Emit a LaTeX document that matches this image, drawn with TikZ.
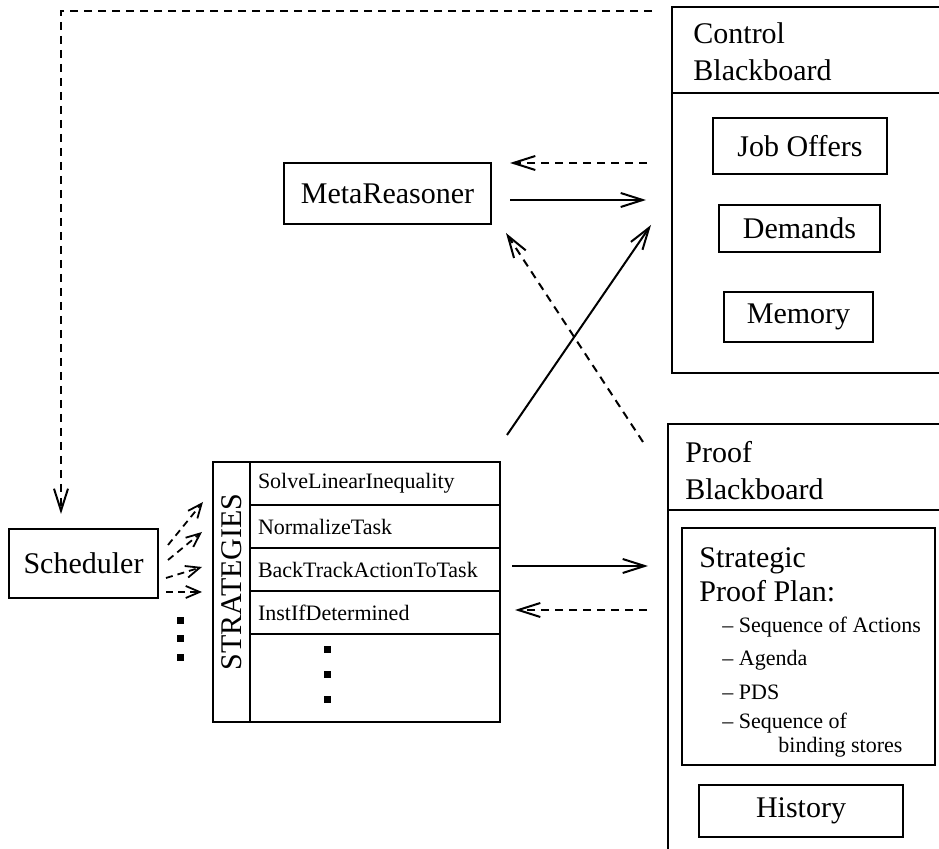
\documentclass[tikz,border=0pt]{standalone}
\usepackage{fontspec}
\setmainfont{Liberation Serif}
\usetikzlibrary{arrows.meta,positioning}

\newcommand{\bigtxt}{\fontsize{15}{18.5}\selectfont}
\newcommand{\smalltxt}{\fontsize{11}{16}\selectfont}

\tikzset{
  box/.style={draw, line width=1pt, font=\bigtxt, inner sep=0pt},
  row/.style={draw, line width=1pt, outer sep=0pt, font=\smalltxt, text width=117pt,
    align=left, inner xsep=4pt, inner ysep=0pt, minimum height=21.5pt, anchor=north west},
  item/.style={font=\smalltxt, anchor=west, inner sep=0pt},
  bbtitle/.style={font=\bigtxt, align=left, anchor=west, inner sep=0pt},
  bb/.style={line width=1pt},
  solidarr/.style={line width=1pt, -{Straight Barb[length=11pt,width=7pt]}},
  dasharr/.style={solidarr, dash pattern=on 4pt off 3pt},
  smallarr/.style={line width=0.9pt, dash pattern=on 3.5pt off 2.5pt,
    -{Straight Barb[length=7pt,width=6pt]}},
  sqdot/.style={fill, minimum size=3.5pt, inner sep=0pt}
}

\begin{document}
\begin{tikzpicture}[x=0.5pt,y=-0.5pt]
        \useasboundingbox (0,0) rectangle (939,849);

        % blackboards
        \coordinate (cbbnw) at (672,7);
        \coordinate (cbbsw) at (672,373);
        \coordinate (pbbnw) at (668,424);
        \coordinate (pbbsw) at (668,849);

        \draw[bb] (939,7) -- (cbbnw) -- (cbbsw) -- (939,373);
        \draw[bb] (cbbnw |- 0,93) -- (939,93);
        \draw[bb] (939,424) -- (pbbnw) -- (pbbsw);
        \draw[bb] (pbbnw |- 0,510) -- (939,510);

        \node[bbtitle] (cbbtitle) at (693,52)  {Control\\Blackboard};
        \node[bbtitle] (pbbtitle) at (685,471) {Proof\\Blackboard};

        \node[box, minimum width=87pt,   minimum height=28pt]   (offers)  at (800,146)   {Job Offers};
        \node[box, minimum width=80.5pt, minimum height=23.5pt] (demands) at (799.5,228.5) {Demands};
        \node[box, minimum width=74.5pt, minimum height=25pt]   (memory)  at (798.5,317) {Memory};

        \node[box, minimum width=126.5pt, minimum height=118.5pt] (plan) at (808.5,646.5) {};
        \node[bbtitle, font=\fontsize{15}{17}\selectfont] (plantitle) at (699,575) {Strategic\\Proof Plan:};
        \node[item] (acts)   at (722,627) {-- Sequence of Actions};
        \node[item] (agenda) at (722,660) {-- Agenda};
        \node[item] (pds)    at (722,692) {-- PDS};
        \node[item] (binds)  at (722,723) {-- Sequence of};
        \node[item] (binds2) at (778,747) {binding stores};

        \node[box, minimum width=102pt, minimum height=26pt] (history) at (801,811) {History};

        % agents
        \node[box, minimum width=103.5pt, minimum height=30.5pt] (meta)  at (387.5,193.5) {MetaReasoner};
        \node[box, minimum width=74.5pt,  minimum height=34.5pt] (sched) at (83.5,563.5)  {Scheduler};

        % strategies table
        \node[row] (s1) at (250,462) {SolveLinearInequality};
        \node[row, below=0pt of s1] (s2) {NormalizeTask};
        \node[row, below=0pt of s2] (s3) {BackTrackActionToTask};
        \node[row, below=0pt of s3] (s4) {InstIfDetermined};
        \node[row, below=0pt of s4, minimum height=44pt] (s5) {};
        \node[draw, line width=1pt, outer sep=0pt, inner sep=0pt, minimum width=18.5pt,
              minimum height=130pt, font=\bigtxt, anchor=north east] (stlab) at (s1.north west)
              {\rotatebox{90}{\hspace{10pt}STRATEGIES}};

        \node[sqdot] (v1) at ([shift={(77,16)}]s5.north west) {};
        \node[sqdot] (v2) at ([shift={(77,41)}]s5.north west) {};
        \node[sqdot] (v3) at ([shift={(77,66)}]s5.north west) {};

        \node[sqdot] (w1) at ([shift={(21,22)}]sched.south east) {};
        \node[sqdot] (w2) at ([shift={(21,40)}]sched.south east) {};
        \node[sqdot] (w3) at ([shift={(21,59)}]sched.south east) {};

        % connectors
        \draw[dasharr] ([shift={(-20,4)}]cbbnw) -| ([shift={(-22.5,-14)}]sched.north);

        \draw[dasharr]  ([shift={(-25,156)}]cbbnw) -- ([shift={(18,-30.5)}]meta.east);
        \draw[solidarr] ([shift={(18,6.5)}]meta.east) -- ([shift={(-26,193)}]cbbnw);
        \draw[solidarr] ([shift={(7,-27)}]s1.north east) -- ([shift={(-21,218)}]cbbnw);
        \draw[dasharr]  ([shift={(-25,18)}]pbbnw) -- ([shift={(14,8)}]meta.south east);

        \draw[solidarr] ([shift={(12,-3.5)}]s3.east) -- ([shift={(-20,142)}]pbbnw);
        \draw[dasharr]  ([shift={(-21,186)}]pbbnw) -- ([shift={(15,-2.5)}]s4.east);

        \draw[smallarr] ([shift={(9,-18.5)}]sched.east) -- ([shift={(-10,-90)}]stlab.west);
        \draw[smallarr] ([shift={(9,-3.5)}]sched.east)  -- ([shift={(-11,-60)}]stlab.west);
        \draw[smallarr] ([shift={(7,14.5)}]sched.east)  -- ([shift={(-11,-25)}]stlab.west);
        \draw[smallarr] ([shift={(7,28.5)}]sched.east)  -- ([shift={(-11,0)}]stlab.west);
    \end{tikzpicture}
\end{document}
